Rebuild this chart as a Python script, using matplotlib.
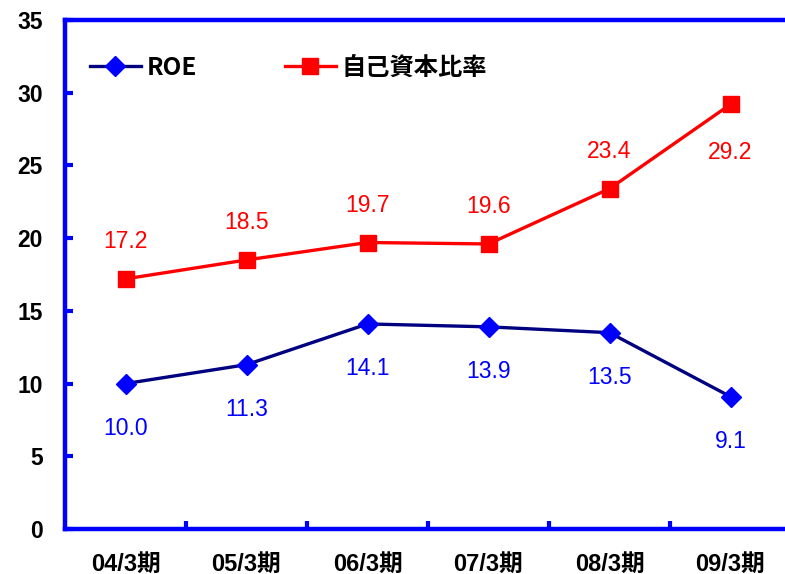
import matplotlib
matplotlib.use("Agg")
import matplotlib.pyplot as plt
from matplotlib.lines import Line2D
from matplotlib import font_manager

categories = ["04/3期", "05/3期", "06/3期", "07/3期", "08/3期", "09/3期"]
roe = [10.0, 11.3, 14.1, 13.9, 13.5, 9.1]
equity_ratio = [17.2, 18.5, 19.7, 19.6, 23.4, 29.2]
yticks = [0, 5, 10, 15, 20, 25, 30, 35]

names = {f.name for f in font_manager.fontManager.ttflist}
narrow = "Liberation Sans Narrow" if "Liberation Sans Narrow" in names else "Liberation Sans"
fam = [narrow, "Noto Sans CJK JP", "DejaVu Sans"]
plt.rcParams['font.family'] = fam

fig = plt.figure(figsize=(7.85, 5.74), dpi=100)
ax = fig.add_axes([65/785, 1-529/574, 726/785, 509/574])
x = list(range(len(categories)))

ax.plot(x, equity_ratio, color="#FF0000", lw=2.4, marker="s", ms=11,
        mfc="#FF0000", mec="#FF0000", zorder=3)
ax.plot(x, roe, color="#000080", lw=2.4, marker="D", ms=10,
        mfc="#0000FF", mec="#0000FF", zorder=3)

n = len(equity_ratio)
for i, (xi, v) in enumerate(zip(x, equity_ratio)):
    dy = -35 if i == n - 1 else 27
    ax.annotate(f"{v:.1f}", (xi, v), xytext=(0, dy), textcoords="offset points",
                ha="center", va="center", color="#FF0000", fontsize=16.5, family=fam)
for xi, v in zip(x, roe):
    ax.annotate(f"{v:.1f}", (xi, v), xytext=(0, -32), textcoords="offset points",
                ha="center", va="center", color="#0000FF", fontsize=16.5, family=fam)

ax.set_xlim(-0.5, 5.5)
ax.set_ylim(0, 35)
ax.set_yticks(yticks)
ax.set_yticklabels([str(t) for t in yticks], fontsize=16.5, fontweight="bold", family=fam)
ax.set_xticks([0.5, 1.5, 2.5, 3.5, 4.5])
ax.set_xticklabels([])
ax.set_xticks(x, minor=True)
ax.set_xticklabels(categories, minor=True, fontsize=17, fontweight="bold", family=fam)
ax.tick_params(axis="x", which="major", direction="in", length=6, width=3, color="#0000FF")
ax.tick_params(axis="x", which="minor", length=0, pad=17)
ax.tick_params(axis="y", direction="in", length=6, width=3, color="#0000FF", pad=16)
for s in ax.spines.values():
    s.set_color("#0000FF")
    s.set_linewidth(3.2)

handles = [
    Line2D([], [], color="#000080", lw=2.4, marker="D", ms=10, mfc="#0000FF", mec="#0000FF"),
    Line2D([], [], color="#FF0000", lw=2.4, marker="s", ms=11, mfc="#FF0000", mec="#FF0000"),
]
leg = ax.legend(handles, ["ROE", "自己資本比率"], loc="center left", ncol=2,
                bbox_to_anchor=(0.034, 1 - (68 - 20) / 509), frameon=False,
                borderpad=0, borderaxespad=0, handlelength=2.1,
                handletextpad=0.25, columnspacing=3.6,
                prop={"family": ["Noto Sans CJK JP", "DejaVu Sans"], "weight": "bold", "size": 17.5})

fig.savefig("out.png", dpi=100)
